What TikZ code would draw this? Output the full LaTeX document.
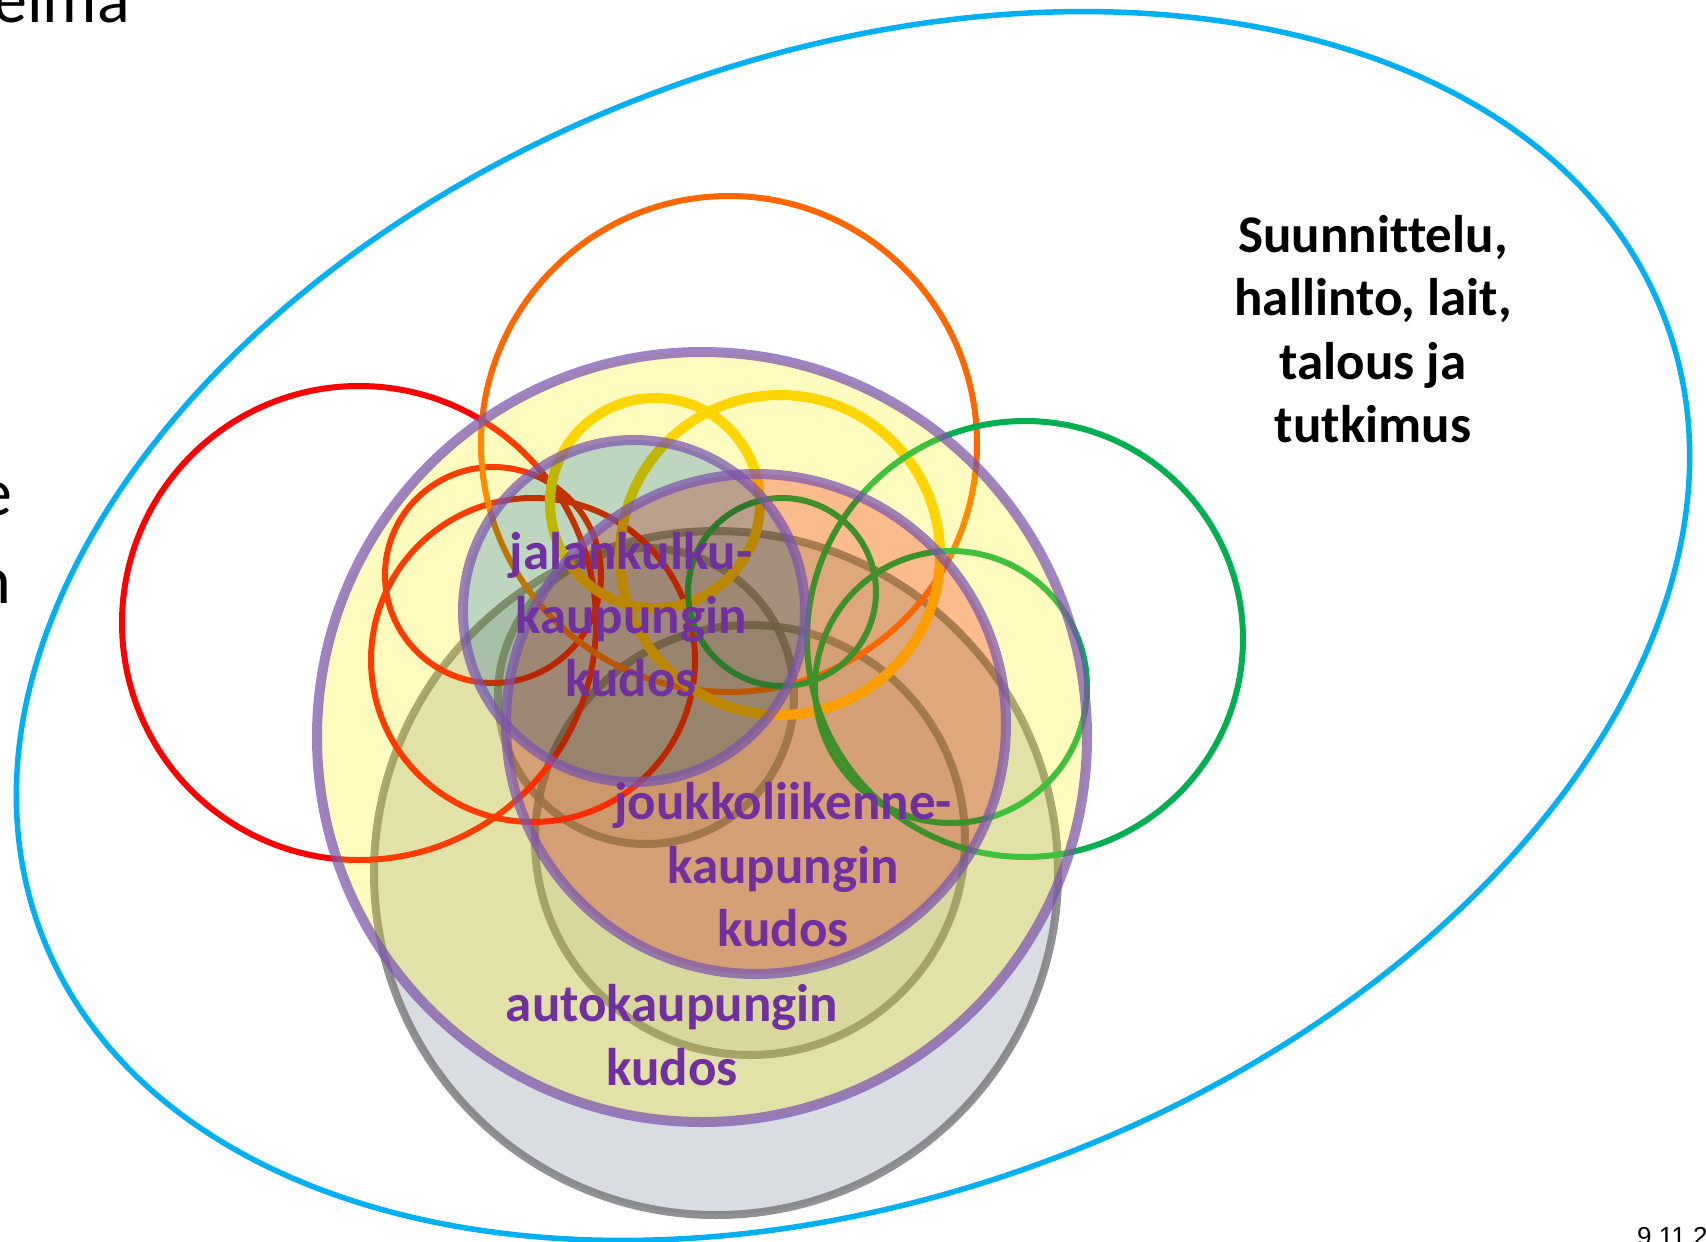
\documentclass[tikz,border=0pt]{standalone}
\usepackage{fontspec}
\setmainfont{Carlito}[Ligatures=NoCommon]
\newfontfamily\datefont{Liberation Sans}
\definecolor{cblue}{RGB}{0,176,240}
\definecolor{cred}{RGB}{255,0,0}
\definecolor{corange}{RGB}{255,102,0}
\definecolor{cgold}{RGB}{255,204,0}
\definecolor{cgreen}{RGB}{0,176,80}
\definecolor{cpurple}{RGB}{122,84,174}
\definecolor{ctext}{RGB}{112,48,160}
\definecolor{cgreyfill}{RGB}{217,220,225}
\definecolor{cgreyline}{RGB}{118,118,120}
\definecolor{cteal}{RGB}{190,218,255}
\definecolor{cpeach}{RGB}{252,190,189}
\begin{document}
\begin{tikzpicture}[x=1pt,y=-1pt,
  thinring/.style={line width=6pt},
  goldring/.style={draw=cgold,line width=10pt},
  greyring/.style={draw=cgreyline,draw opacity=0.8,line width=8pt},
  venn/.style={draw=cpurple,draw opacity=0.72,line width=10pt},
  lbl/.style={font=\fontsize{53}{63.5}\selectfont\bfseries,text=ctext,align=center,inner sep=0pt},
  cut/.style={font=\fontsize{68}{82}\selectfont,text=black,inner sep=0pt,anchor=base east}
]
\useasboundingbox (0,0) rectangle (1706,1242);
\fill[white] (0,0) rectangle (1706,1242);

% outer frame: planning, administration ...
\draw[cblue,line width=5.5pt,rotate around={20.7:(853,626)}] (853,626) ellipse [x radius=868,y radius=569];

% car city fabric (grey rings)
\draw[greyring,fill=cgreyfill] (716,873) circle [radius=342];
\draw[greyring,fill=black,fill opacity=0.06] (750,840) circle [radius=215];
\draw[greyring,fill=black,fill opacity=0.06] (646,696) circle [radius=148];

% thin coloured rings
\draw[thinring,cred] (359,623) circle [radius=237];
\draw[thinring,cred] (533,660) circle [radius=162];
\draw[thinring,cred] (493,575) circle [radius=108];
\draw[thinring,corange] (729,444) circle [radius=248];
\draw[goldring] (655,503) circle [radius=105];
\draw[goldring] (780,555) circle [radius=160];
\draw[thinring,cgreen] (1025,639) circle [radius=218];
\draw[thinring,cgreen] (951,687) circle [radius=136];
\draw[thinring,cgreen] (782,592) circle [radius=94];

% big yellow circle
\draw[venn,fill=yellow,fill opacity=0.25] (702,737) circle [radius=385];

% walking and transit city fills
\begin{scope}[blend mode=multiply]
  \fill[cteal] (634,611) circle [radius=171];
  \fill[cpeach] (756,724) circle [radius=250];
\end{scope}
\draw[venn] (634,611) circle [radius=171];
\draw[venn] (756,724) circle [radius=250];

% labels
\node[lbl] (walk) at (631,615) {jalankulku-\\kaupungin\\kudos};
\node[lbl] (transit) at (783,865) {joukkoliikenne-\\kaupungin\\kudos};
\node[lbl] (car) at (672,1035) {autokaupungin\\kudos};
\node[lbl,text=black] (plan) at (1373,329) {Suunnittelu,\\hallinto, lait,\\talous ja\\tutkimus};

% cut-off slide texts
\node[cut] (toptext) at (130,23) {ohjelma};
\node[cut] (lefte) at (13,515) {e};
\node[cut] (leftn) at (11,603) {n};
\node[font=\datefont\fontsize{26}{30}\selectfont,anchor=base west,inner sep=0pt] (date) at (1637,1245) {9.11.2011};
\end{tikzpicture}
\end{document}
